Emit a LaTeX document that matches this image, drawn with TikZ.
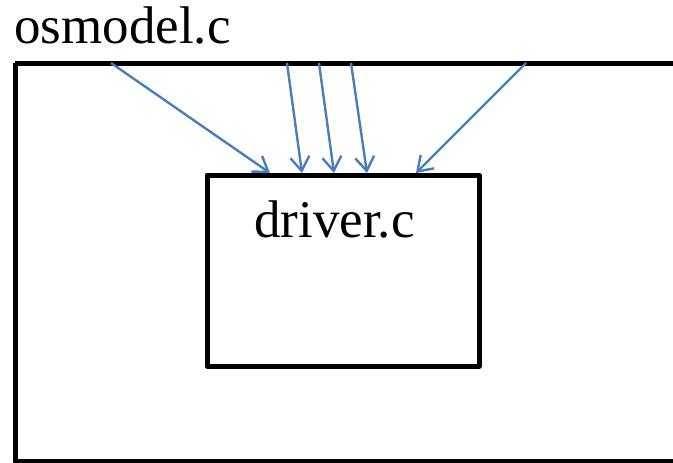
\documentclass[tikz,border=0pt]{standalone}
\usepackage{fontspec}
\setmainfont{Liberation Serif}
\usetikzlibrary{arrows.meta}
\definecolor{arrowblue}{HTML}{4A7EBB}
\begin{document}
\begin{tikzpicture}[x=1pt,y=-1pt,
  box/.style={draw=black,line width=5pt,line join=round},
  label/.style={font=\fontsize{53}{53}\selectfont,inner sep=0pt,anchor=base west},
  link/.style={draw=arrowblue,line width=2.4pt,-{Straight Barb[length=14pt,width=19pt,line width=2.4pt]}}]
\useasboundingbox (0,0) rectangle (673,463);
\clip (0,0) rectangle (673,463);
\draw[box] (15,63) -- (700,63) (15,63) -- (15,461) -- (700,461);
\node[box,rectangle,inner sep=0pt,outer sep=0pt,minimum width=272pt,minimum height=191pt,anchor=north west] (driver) at (207,175) {};
\node[label] (os) at (14,43) {osmodel.c};
\node[label] (drv) at (254,237) {driver.c};
\coordinate (s1) at (111,63);
\coordinate (s2) at (287,63);
\coordinate (s3) at (319,63);
\coordinate (s4) at (351,63);
\coordinate (s5) at (526,63);
\coordinate (t1) at (270,173);
\coordinate (t2) at (302,173);
\coordinate (t3) at (334,173);
\coordinate (t4) at (367,173);
\coordinate (t5) at (416,173);
\foreach \i in {1,...,5} \draw[link] (s\i) -- (t\i);
\end{tikzpicture}
\end{document}
